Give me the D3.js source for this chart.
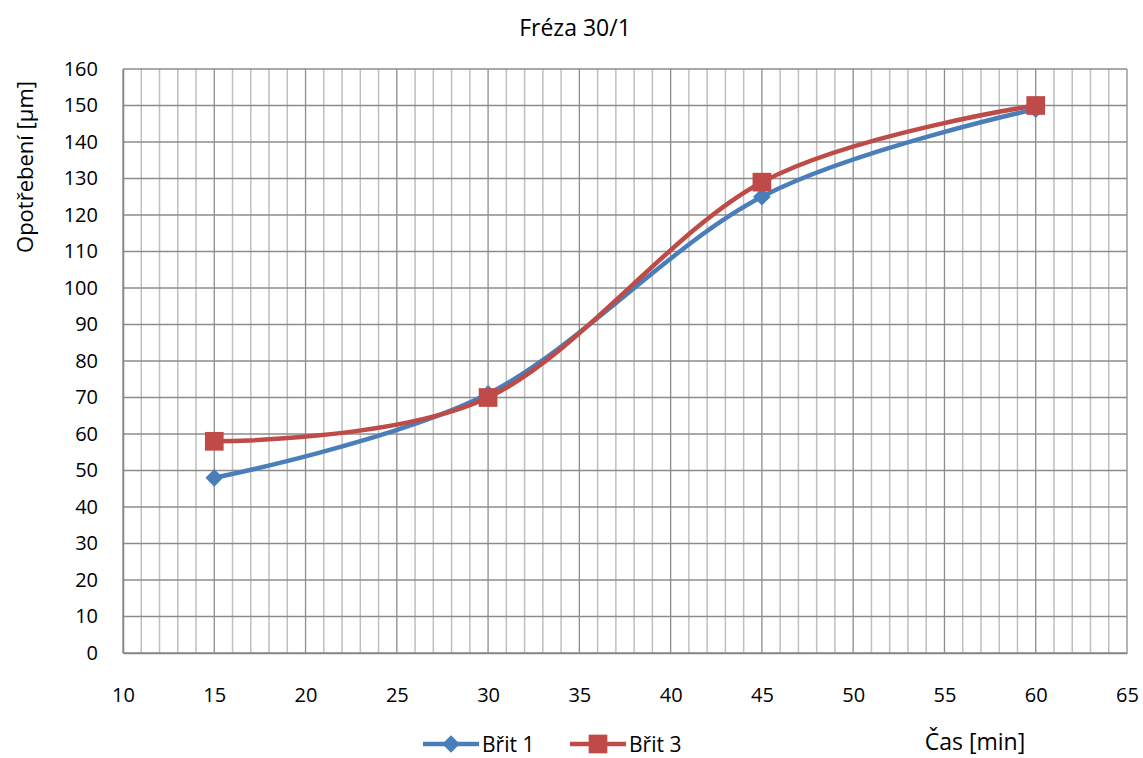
<!DOCTYPE html>
<html>
<head>
<meta charset="utf-8">
<script src="https://cdn.jsdelivr.net/npm/d3@7"></script>
<style>
  body { margin: 0; background: #fff; }
  text { font-family: "Open Sans", "Noto Sans", sans-serif; fill: #000; }
</style>
</head>
<body>
<svg id="chart" width="1143" height="758"></svg>
<script>
// data
var times = [15, 30, 45, 60];
var brit1 = [48, 71, 125, 149];
var brit3 = [58, 70, 129, 150];
var xTicks = [10, 15, 20, 25, 30, 35, 40, 45, 50, 55, 60, 65];
var yTicks = [0, 10, 20, 30, 40, 50, 60, 70, 80, 90, 100, 110, 120, 130, 140, 150, 160];
var seriesNames = ["Břit 1", "Břit 3"];

var svg = d3.select("#chart"),
    plotL = 123, plotR = 1127, plotT = 69, plotB = 653;

var x = d3.scaleLinear().domain([10, 65]).range([plotL, plotR]),
    y = d3.scaleLinear().domain([0, 160]).range([plotB, plotT]);

// minor vertical grid, every 1 min
var g = svg.append("g");
g.selectAll(".minor")
  .data(d3.range(11, 65).filter(function(d){ return d % 5 != 0; }))
  .enter().append("line")
  .attr("x1", function(d){ return x(d); }).attr("x2", function(d){ return x(d); })
  .attr("y1", plotT).attr("y2", plotB)
  .attr("stroke", "#bfbfbf").attr("stroke-width", 1.5);

// horizontal grid
g.selectAll(".hgrid")
  .data(yTicks)
  .enter().append("line")
  .attr("x1", plotL).attr("x2", plotR)
  .attr("y1", function(d){ return y(d); }).attr("y2", function(d){ return y(d); })
  .attr("stroke", "#8c8c8c").attr("stroke-width", 1.3);

// major vertical grid
g.selectAll(".major")
  .data(xTicks)
  .enter().append("line")
  .attr("x1", function(d){ return x(d); }).attr("x2", function(d){ return x(d); })
  .attr("y1", plotT).attr("y2", plotB)
  .attr("stroke", "#8c8c8c").attr("stroke-width", 1.3);

// axes
var xAxis = svg.append("g")
  .attr("transform", "translate(0," + plotB + ")")
  .call(d3.axisBottom(x).tickValues(xTicks).tickSize(0).tickPadding(35));
xAxis.select(".domain").attr("stroke", "#868686").attr("stroke-width", 1.5);
xAxis.selectAll("text").style("font-size", "20px").style("font-family", "'Open Sans', sans-serif").attr("fill", "#000");

var yAxis = svg.append("g")
  .attr("transform", "translate(" + plotL + ",0)")
  .call(d3.axisLeft(y).tickValues(yTicks).tickSize(0).tickPadding(25));
yAxis.select(".domain").attr("stroke", "#868686").attr("stroke-width", 1.5);
yAxis.selectAll("text").style("font-size", "20px").style("font-family", "'Open Sans', sans-serif").attr("fill", "#000");

// lines
var line = d3.line()
  .x(function(d){ return x(d[0]); })
  .y(function(d){ return y(d[1]); })
  .curve(d3.curveCardinal.tension(0));

var colors = ["#4a7ebb", "#be4b48"];
var sets = [brit1, brit3];

sets.forEach(function(vals, i){
  var pts = times.map(function(t, j){ return [t, vals[j]]; });
  svg.append("path")
    .datum(pts)
    .attr("fill", "none")
    .attr("stroke", colors[i])
    .attr("stroke-width", 4.5)
    .attr("stroke-linejoin", "round")
    .attr("d", line);
});

// markers
var diamond = d3.symbol().type(d3.symbolDiamond2).size(200),
    square = d3.symbol().type(d3.symbolSquare).size(350);

svg.selectAll(".m1")
  .data(times.map(function(t, j){ return [t, brit1[j]]; }))
  .enter().append("path")
  .attr("d", diamond)
  .attr("fill", colors[0])
  .attr("transform", function(d){ return "translate(" + x(d[0]) + "," + y(d[1]) + ")"; });

svg.selectAll(".m3")
  .data(times.map(function(t, j){ return [t, brit3[j]]; }))
  .enter().append("path")
  .attr("d", square)
  .attr("fill", colors[1])
  .attr("transform", function(d){ return "translate(" + x(d[0]) + "," + y(d[1]) + ")"; });

// title and axis labels
svg.append("text")
  .attr("x", 575).attr("y", 36)
  .attr("text-anchor", "middle")
  .style("font-size", "23px")
  .text("Fréza 30/1");

svg.append("text")
  .attr("transform", "translate(33,167) rotate(-90)")
  .attr("text-anchor", "middle")
  .style("font-size", "22px")
  .text("Opotřebení [µm]");

svg.append("text")
  .attr("x", 975).attr("y", 750)
  .attr("text-anchor", "middle")
  .style("font-size", "23px")
  .text("Čas [min]");

// legend
var legX = [423, 570];
seriesNames.forEach(function(name, i){
  var lg = svg.append("g").attr("transform", "translate(" + legX[i] + ",744)");
  lg.append("line")
    .attr("x1", 0).attr("x2", 56)
    .attr("stroke", colors[i]).attr("stroke-width", 4.5);
  lg.append("path")
    .attr("d", i == 0 ? diamond : square)
    .attr("fill", colors[i])
    .attr("transform", "translate(28,0)");
  lg.append("text")
    .attr("x", 59).attr("y", 8)
    .style("font-size", "21px")
    .text(name);
});
</script>
</body>
</html>
